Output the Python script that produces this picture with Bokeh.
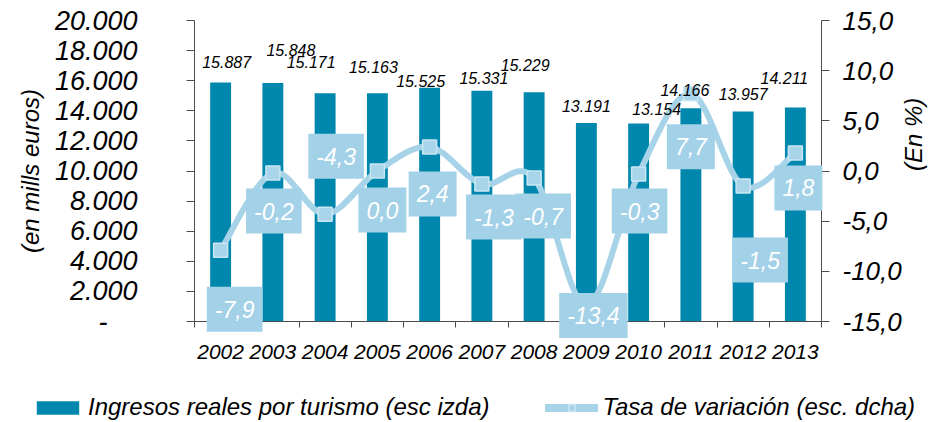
import math
from bokeh.plotting import figure
from bokeh.models import Range1d, LinearAxis, FixedTicker, ColumnDataSource, Legend, LegendItem
from bokeh.core.properties import value
from bokeh.embed import file_html
from bokeh.resources import INLINE

# ---- data ----
years = [2002, 2003, 2004, 2005, 2006, 2007, 2008, 2009, 2010, 2011, 2012, 2013]
ingresos = [15887, 15848, 15171, 15163, 15525, 15331, 15229, 13191, 13154, 14166, 13957, 14211]
tasa = [-7.9, -0.2, -4.3, 0.0, 2.4, -1.3, -0.7, -13.4, -0.3, 7.7, -1.5, 1.8]
left_ticks = [0, 2000, 4000, 6000, 8000, 10000, 12000, 14000, 16000, 18000, 20000]
right_ticks = [-15, -10, -5, 0, 5, 10, 15]
bar_series_name = "Ingresos reales por turismo (esc izda)"
line_series_name = "Tasa de variación (esc. dcha)"

# label placement (screen pixel offsets, layout only)
bar_lbl_dx = [6, 18, -14, -4, -9, 2, -9, 0, 18, -6, 0, -11]
bar_lbl_dy = [-20, -33, -31, -26, -7, -13, -27, -17, -15, -18, -17, -30]
box_dx = [14, 1, 11, 5, 3, 12, 9, 7, 1, 0, 17, 3]
box_dy = [59, 38, -58, 39, 47, 33, 38, 10, 37, 53, 74, 35]

FONT = "Liberation Sans"
BAR_COLOR = "#0087AD"
LINE_COLOR = "#A6D3E8"
BOX_COLOR = "#A3D1E8"
AX_COLOR = "#4d4d4d"

def fmt_thousands(v):
    return f"{v:,}".replace(",", ".")

def fmt_pct(v):
    return f"{v:.1f}".replace(".", ",")

# ---- page geometry (pixels): the plotting frame covers the whole canvas,
# axes are pinned at fixed locations so nothing is clipped ----
W, H = 941, 422
AX_LEFT, AX_RIGHT, AX_TOP, AX_BOTTOM = 194, 821, 20, 321

L0, L1 = left_ticks[0], left_ticks[-1]
R0, R1 = right_ticks[0], right_ticks[-1]
X0, X1 = years[0] - 0.5, years[-1] + 0.5

def extend(lo, hi, p_lo, p_hi, total, flip=False):
    per_px = (hi - lo) / (p_hi - p_lo)
    if not flip:
        return lo - p_lo * per_px, hi + (total - p_hi) * per_px
    return lo - (total - p_hi) * per_px, hi + p_lo * per_px

xr = extend(X0, X1, AX_LEFT, AX_RIGHT, W)
yl = extend(L0, L1, AX_TOP, AX_BOTTOM, H, flip=True)
yr = extend(R0, R1, AX_TOP, AX_BOTTOM, H, flip=True)

p = figure(width=W, height=H, output_backend="svg", toolbar_location=None,
           x_range=Range1d(*xr), y_range=Range1d(*yl),
           min_border=0, min_border_left=0, min_border_right=0,
           min_border_top=0, min_border_bottom=0)
p.extra_y_ranges = {"pct": Range1d(*yr)}
p.outline_line_color = None
p.xgrid.visible = False
p.ygrid.visible = False

# x axis
xa = p.xaxis[0]
xa.fixed_location = L0
xa.bounds = (X0, X1)
xa.ticker = FixedTicker(ticks=years, minor_ticks=[y - 0.5 for y in years] + [X1])
xa.major_label_overrides = {y: str(y) for y in years}
xa.major_tick_out = 0
xa.major_tick_in = 0
xa.minor_tick_out = 6
xa.minor_tick_in = 0
xa.minor_tick_line_color = AX_COLOR
xa.axis_line_color = AX_COLOR
xa.major_label_standoff = 17
xa.major_label_text_font = FONT
xa.major_label_text_font_style = "italic"
xa.major_label_text_font_size = "21px"
xa.major_label_text_color = "black"

# left axis
ya = p.yaxis[0]
ya.fixed_location = X0
ya.bounds = (L0, L1)
ya.ticker = FixedTicker(ticks=left_ticks, minor_ticks=[])
ya.major_label_overrides = {t: (fmt_thousands(t) if t else "-\u00a0\u00a0\u00a0\u00a0") for t in left_ticks}
ya.major_tick_out = 8
ya.major_tick_in = 0
ya.major_tick_line_color = AX_COLOR
ya.axis_line_color = AX_COLOR
ya.major_label_standoff = 49
ya.major_label_text_font = FONT
ya.major_label_text_font_style = "italic"
ya.major_label_text_font_size = "27px"
ya.major_label_text_color = "black"
ya.axis_label = "(en mills euros)"
ya.axis_label_standoff = 8
ya.axis_label_text_font = FONT
ya.axis_label_text_font_style = "italic"
ya.axis_label_text_font_size = "24px"
ya.axis_label_text_color = "black"

# right axis
ra = LinearAxis(y_range_name="pct", ticker=FixedTicker(ticks=right_ticks, minor_ticks=[]))
ra.fixed_location = X1
ra.bounds = (R0, R1)
ra.major_label_overrides = {t: fmt_pct(t) for t in right_ticks}
ra.major_tick_out = 8
ra.major_tick_in = 0
ra.major_tick_line_color = AX_COLOR
ra.axis_line_color = AX_COLOR
ra.major_label_standoff = 13
ra.major_label_text_font = FONT
ra.major_label_text_font_style = "italic"
ra.major_label_text_font_size = "26px"
ra.major_label_text_color = "black"
ra.axis_label = "(En %)"
ra.axis_label_orientation = math.pi / 2
ra.axis_label_standoff = 9
ra.axis_label_text_font = FONT
ra.axis_label_text_font_style = "italic"
ra.axis_label_text_font_size = "24px"
ra.axis_label_text_color = "black"
p.add_layout(ra, "right")

# bars
bars = p.vbar(x=years, top=ingresos, width=0.4, fill_color=BAR_COLOR, line_color=None)

# smoothed line as bezier segments computed from the data points
n = len(years)
def pt(i):
    i = min(max(i, 0), n - 1)
    return years[i], tasa[i]
seg = dict(x0=[], y0=[], x1=[], y1=[], cx0=[], cy0=[], cx1=[], cy1=[])
for i in range(n - 1):
    xa_, ya_ = pt(i - 1)
    xb, yb = pt(i)
    xc, yc = pt(i + 1)
    xd, yd = pt(i + 2)
    seg["x0"].append(xb); seg["y0"].append(yb)
    seg["x1"].append(xc); seg["y1"].append(yc)
    seg["cx0"].append(xb + (xc - xa_) / 6); seg["cy0"].append(yb + (yc - ya_) / 6)
    seg["cx1"].append(xc - (xd - xb) / 6); seg["cy1"].append(yc - (yd - yb) / 6)
p.bezier(x0="x0", y0="y0", x1="x1", y1="y1", cx0="cx0", cy0="cy0", cx1="cx1", cy1="cy1",
         source=ColumnDataSource(seg), line_color=LINE_COLOR, line_width=6, line_cap="round",
         y_range_name="pct")
marks = p.scatter(years, tasa, marker="square", size=14, fill_color="#A9D5EA",
                  line_color="#C9E6F3", line_width=1.5, y_range_name="pct")

# legend proxy for the line (a single point draws nothing in the plot)
leg_line = p.line(x=years[:1], y=tasa[:1], line_color=LINE_COLOR, line_width=8,
                  line_cap="round", y_range_name="pct")

# value boxes (drawn above the axes, as in the original)
box_src = ColumnDataSource(dict(x=years, y=tasa, t=[fmt_pct(v) for v in tasa], dx=box_dx, dy=box_dy))
p.text(x="x", y="y", text="t", x_offset="dx", y_offset="dy", source=box_src,
       text_align="center", text_baseline="middle", text_color="white",
       text_font=value(FONT), text_font_style="italic", text_font_size="23px",
       background_fill_color=BOX_COLOR, padding=(8, 14), y_range_name="pct",
       level="overlay")

# bar labels
bar_src = ColumnDataSource(dict(x=years, y=ingresos, t=[fmt_thousands(v) for v in ingresos],
                                dx=bar_lbl_dx, dy=bar_lbl_dy))
p.text(x="x", y="y", text="t", x_offset="dx", y_offset="dy", source=bar_src,
       text_align="center", text_baseline="middle", text_color="black",
       text_font=value(FONT), text_font_style="italic", text_font_size="16px")

legend = Legend(items=[LegendItem(label=bar_series_name, renderers=[bars]),
                       LegendItem(label=line_series_name, renderers=[leg_line, marks])],
                orientation="horizontal", location=(31, 1),
                glyph_width=53, glyph_height=17, label_standoff=4, spacing=56,
                padding=0, margin=0, border_line_color=None, background_fill_alpha=0,
                label_text_font=FONT, label_text_font_style="italic",
                label_text_font_size="24px", label_text_color="black")
p.add_layout(legend, "center")

open("out.html", "w").write(file_html(p, INLINE))
